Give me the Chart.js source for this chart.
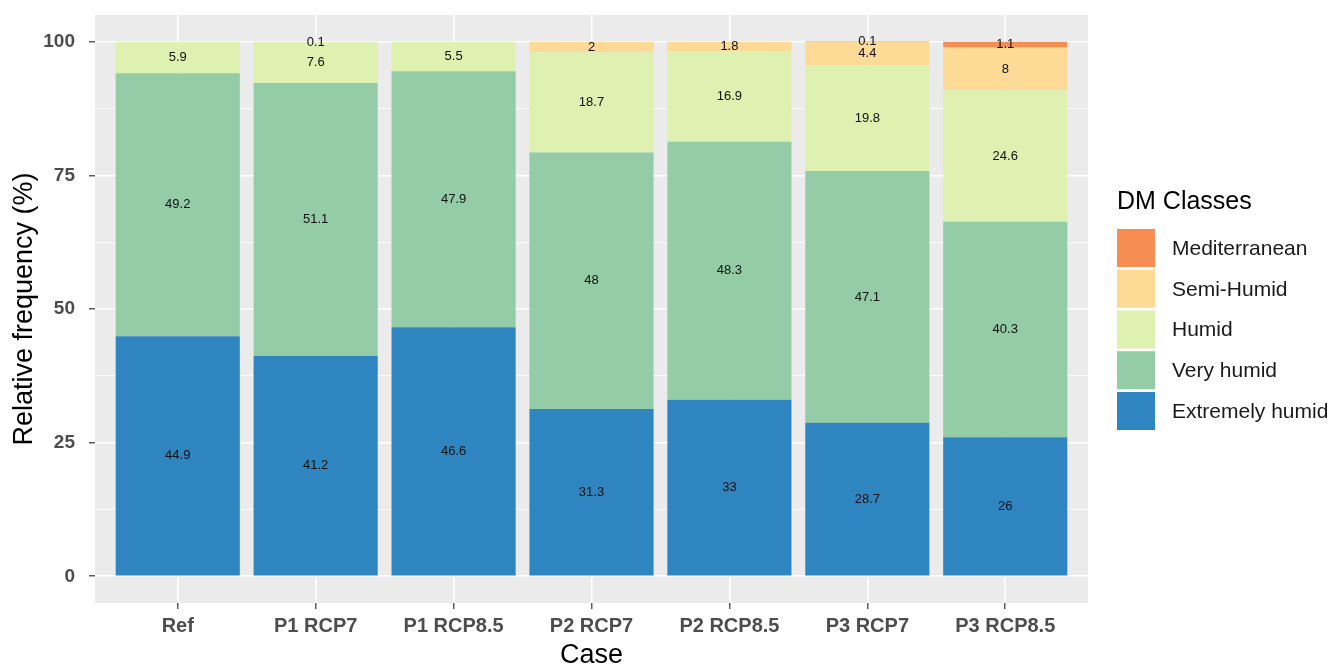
<!DOCTYPE html>
<html><head><meta charset="utf-8">
<script src="https://cdn.jsdelivr.net/npm/chart.js@4.4.0/dist/chart.umd.min.js"></script>
<style>html,body{margin:0;padding:0;background:#fff;}#wrap{width:1339px;height:669px;}</style>
</head><body><div id="wrap"><canvas id="c" width="1339" height="669"></canvas></div>
<script>
const categories = ["Ref","P1 RCP7","P1 RCP8.5","P2 RCP7","P2 RCP8.5","P3 RCP7","P3 RCP8.5"];
const extremelyHumid = [44.9,41.2,46.6,31.3,33,28.7,26];
const veryHumid = [49.2,51.1,47.9,48,48.3,47.1,40.3];
const humid = [5.9,7.6,5.5,18.7,16.9,19.8,24.6];
const semiHumid = [0,0.1,0,2,1.8,4.4,8];
const mediterranean = [0,0,0,0,0,0.1,1.1];
const yTicks = [0,12.5,25,37.5,50,62.5,75,87.5,100];
const classNames = ["Extremely humid","Very humid","Humid","Semi-Humid","Mediterranean"];
const classColors = ["#2F85BF","#94CCA8","#DEF1B0","#FDDA96","#F68D52"];
const legendTitle = "DM Classes";

const FONT = "'Liberation Sans', Arial, sans-serif";
const series = [extremelyHumid, veryHumid, humid, semiHumid, mediterranean];

const datasets = series.map((arr, k) => ({
  label: classNames[k],
  data: arr.map((v, i) => ({x: i + 1, y: v})),
  backgroundColor: classColors[k],
  borderWidth: 0,
  barPercentage: 0.9,
  categoryPercentage: 1.0
}));

const panelBg = {
  id: 'panelBg',
  beforeDraw(chart) {
    const {ctx, chartArea: a} = chart;
    ctx.save();
    ctx.fillStyle = '#EBEBEB';
    ctx.fillRect(a.left, a.top, a.right - a.left, a.bottom - a.top);
    ctx.restore();
  }
};

const valueLabels = {
  id: 'valueLabels',
  afterDatasetsDraw(chart) {
    const ctx = chart.ctx;
    ctx.save();
    ctx.font = "13px " + FONT;
    ctx.fillStyle = '#111';
    ctx.textAlign = 'center';
    ctx.textBaseline = 'middle';
    chart.data.datasets.forEach((ds, di) => {
      const meta = chart.getDatasetMeta(di);
      meta.data.forEach((el, i) => {
        const v = ds.data[i].y;
        if (!v) return;
        const p = el.getProps(['x','y','base'], true);
        ctx.fillText(String(v), p.x, (p.y + p.base) / 2);
      });
    });
    ctx.restore();
  }
};

const sideLegend = {
  id: 'sideLegend',
  afterDraw(chart) {
    const ctx = chart.ctx;
    const x0 = 1117, boxTop = 229, box = 38, pitch = 40.75;
    ctx.save();
    ctx.fillStyle = '#000';
    ctx.textBaseline = 'middle';
    ctx.textAlign = 'left';
    ctx.font = "25px " + FONT;
    ctx.fillText(legendTitle, x0, 202);
    ctx.font = "21px " + FONT;
    const items = chart.data.datasets.map(d => ({label: d.label, color: d.backgroundColor})).reverse();
    items.forEach((it, j) => {
      const y = boxTop + j * pitch;
      ctx.fillStyle = it.color;
      ctx.fillRect(x0, y, box, box);
      ctx.fillStyle = '#1A1A1A';
      ctx.fillText(it.label, 1172, y + box / 2 + 1);
    });
    ctx.restore();
  }
};

new Chart(document.getElementById('c'), {
  type: 'bar',
  data: {datasets},
  plugins: [panelBg, valueLabels, sideLegend],
  options: {
    responsive: false,
    animation: false,
    devicePixelRatio: 1,
    layout: {padding: {top: 15, right: 251, left: 0, bottom: 0}},
    plugins: {legend: {display: false}, tooltip: {enabled: false}},
    scales: {
      x: {
        type: 'linear',
        stacked: true,
        min: 0.4, max: 7.6,
        offset: false,
        afterBuildTicks(scale) { scale.ticks = categories.map((c, i) => ({value: i + 1})); },
        afterFit(scale) { scale.height = 66; scale.paddingLeft = 0; scale.paddingRight = 0; },
        ticks: {
          autoSkip: false,
          maxRotation: 0,
          padding: 5,
          color: '#4D4D4D',
          font: {family: FONT, size: 20, weight: 'bold'},
          callback: (v) => categories[Math.round(v) - 1] || ''
        },
        grid: {offset: false, color: '#FFFFFF', lineWidth: 1.6, drawTicks: true, tickLength: 6, tickColor: '#333333', tickWidth: 1.2},
        border: {display: false},
        title: {display: true, text: 'Case', color: '#000', font: {family: FONT, size: 27, lineHeight: 1}, padding: {top: 0, bottom: 0}}
      },
      y: {
        type: 'linear',
        stacked: true,
        min: -5, max: 105,
        afterBuildTicks(scale) { scale.ticks = yTicks.map(v => ({value: v})); },
        afterFit(scale) { scale.width = 95; scale.paddingTop = 0; scale.paddingBottom = 0; },
        ticks: {
          padding: 14,
          color: '#4D4D4D',
          font: {family: FONT, size: 19, weight: 'bold'},
          callback: (v) => (v % 25 === 0 ? String(v) : '')
        },
        grid: {
          color: '#FFFFFF',
          lineWidth: (c) => (c.tick && c.tick.value % 25 === 0 ? 1.6 : 0.8),
          drawTicks: true,
          tickLength: 6,
          tickWidth: 1.2,
          tickColor: (c) => (c.tick && c.tick.value % 25 === 0 ? '#333333' : 'rgba(0,0,0,0)')
        },
        border: {display: false},
        title: {display: true, text: 'Relative frequency (%)', color: '#000', font: {family: FONT, size: 27, lineHeight: 1}, padding: {top: 11, bottom: 0}}
      }
    }
  }
});
</script>
</body></html>
